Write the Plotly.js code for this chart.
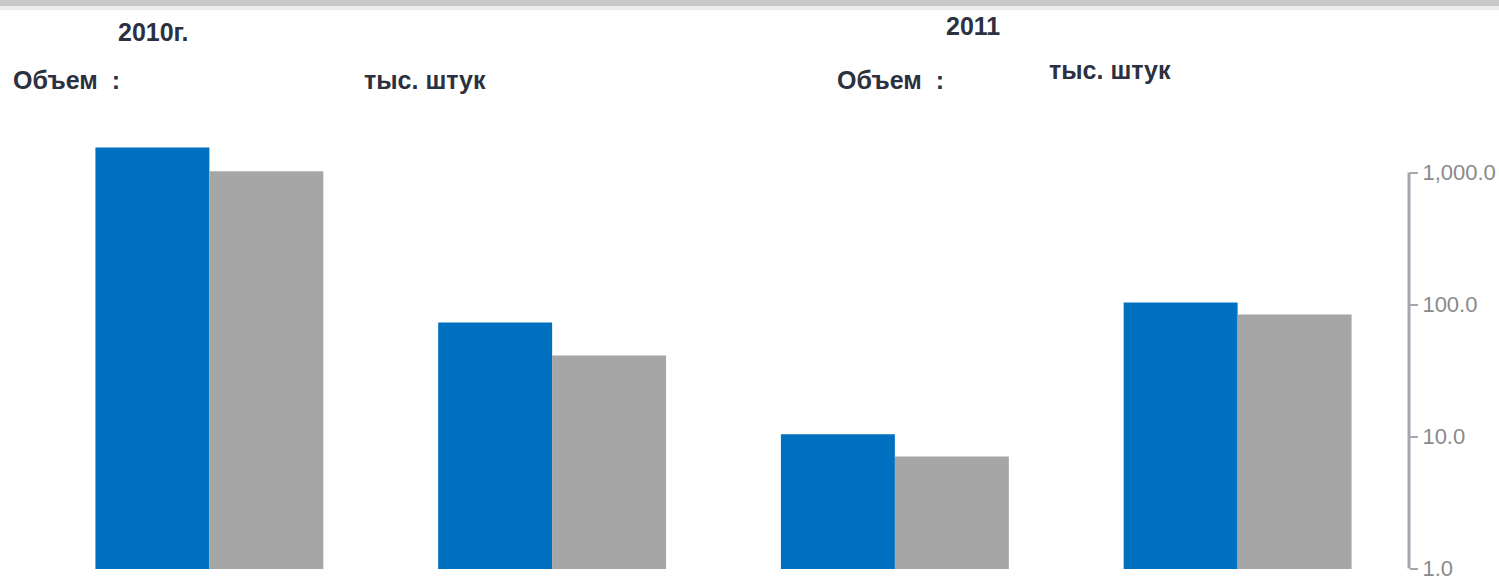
<!DOCTYPE html>
<html>
<head>
<meta charset="utf-8">
<script src="https://cdn.plot.ly/plotly-3.0.1.min.js"></script>
<style>
html,body{margin:0;padding:0;background:#fff;}
#chart{width:1499px;height:580px;}
</style>
</head>
<body>
<div id="chart"></div>
<script>
// Data
const categories = ["A", "B", "C", "D"];
const series2010 = [1550, 73, 10.4, 103.5];
const series2011 = [1020, 41, 7.05, 84];
const tickValues = [1, 10, 100, 1000];
const tickLabels = ["1.0", "10.0", "100.0", "1,000.0"];

const blue = "#0070c0";
const gray = "#a6a6a6";
const textColor = "#2b3140";

const traces = [
  {type: "bar", x: categories, y: series2010, name: "2010г.", marker: {color: blue, line: {width: 0}}},
  {type: "bar", x: categories, y: series2011, name: "2011", marker: {color: gray, line: {width: 0}}}
];

const W = 1499, H = 580;
const pxPerDecade = 132;
const plotLeft = 37.5, plotRight = 1409, plotTop = 120;
const oneAt = 568.5;         // pixel row of value 1
const lowPad = 0.5;          // pixels below value 1 inside plot
const plotBottom = oneAt + lowPad;
const rangeLow = -lowPad / pxPerDecade;
const topLog = (oneAt - plotTop) / pxPerDecade;
const pw = plotRight - plotLeft, ph = plotBottom - plotTop;
function px(x) { return (x - plotLeft) / pw; }
function py(y) { return (plotBottom - y) / ph; }

function txt(text, x, y, size, anchor) {
  return {text: text, x: px(x), y: py(y), xref: "paper", yref: "paper",
    xanchor: anchor || "left", yanchor: "middle", showarrow: false,
    font: {family: "Liberation Sans, Arial, sans-serif", size: size, color: textColor, weight: "bold"}};
}

const layout = {
  width: W, height: H,
  margin: {l: plotLeft, r: W - plotRight, t: plotTop, b: H - plotBottom, pad: 0},
  paper_bgcolor: "#fff", plot_bgcolor: "#fff",
  showlegend: false,
  barmode: "group",
  bargap: 0.335,
  bargroupgap: 0,
  xaxis: {range: [-0.5, 3.5], showticklabels: false, showgrid: false, zeroline: false, showline: false, ticks: "", fixedrange: true},
  yaxis: {type: "log", range: [rangeLow, topLog], side: "right", showgrid: false, zeroline: false, showline: false,
    tickvals: tickValues, ticktext: tickLabels, ticks: "outside", ticklen: 8, tickwidth: 2, tickcolor: "#a4a6ae",
    ticklabeloverflow: "allow",
    tickfont: {family: "Liberation Sans, Arial, sans-serif", size: 22, color: "#8a8a8a"}, ticklabelstandoff: 0},
  shapes: [
    {type: "line", xref: "paper", yref: "y", x0: 1, x1: 1, y0: 1, y1: 1000, line: {color: "#a4a6ae", width: 3}},
    {type: "rect", xref: "paper", yref: "paper", x0: px(-10), x1: px(1510), y0: py(0), y1: py(6), fillcolor: "#c8c8c8", line: {width: 0}, layer: "above"},
    {type: "rect", xref: "paper", yref: "paper", x0: px(-10), x1: px(1510), y0: py(6), y1: py(10), fillcolor: "#ececec", line: {width: 0}, layer: "above"}
  ],
  annotations: [
    txt("2010г.", 153, 32, 25, "center"),
    txt("Объем  :", 10, 80, 25, "left"),
    txt("тыс. штук", 362, 80, 25, "left"),
    txt("2011", 973, 26, 25, "center"),
    txt("Объем  :", 835, 80, 25, "left"),
    txt("тыс. штук", 1047, 70, 25, "left")
  ]
};

Plotly.newPlot("chart", traces, layout, {displayModeBar: false, staticPlot: true});
</script>
</body>
</html>
